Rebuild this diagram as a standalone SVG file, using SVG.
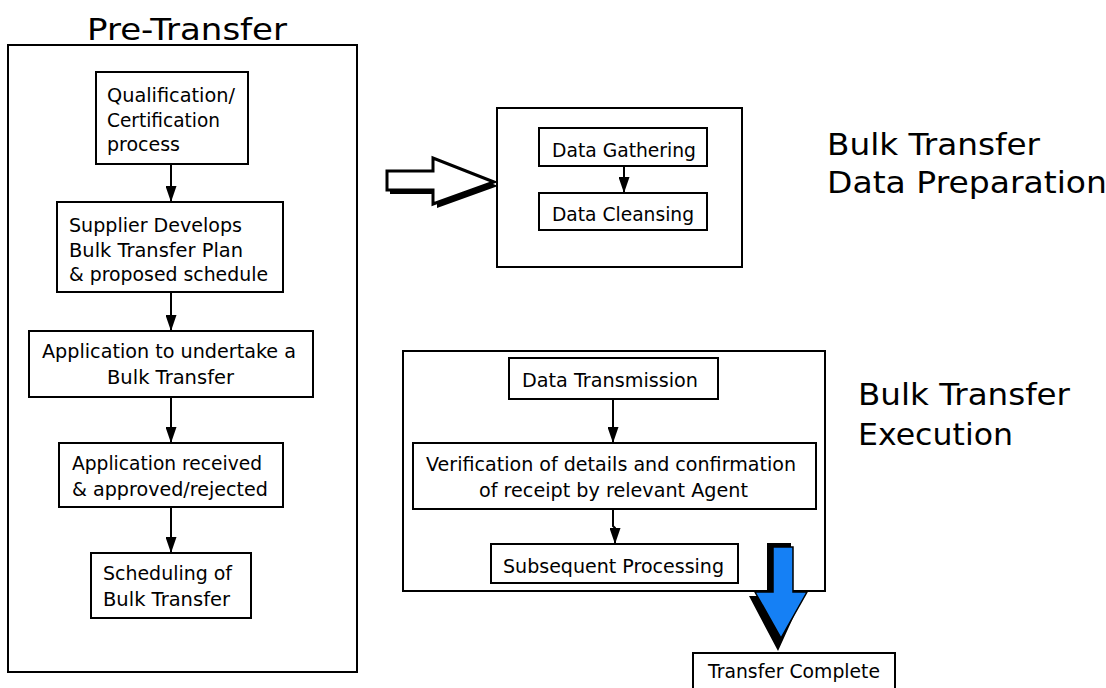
<svg xmlns="http://www.w3.org/2000/svg" width="1106" height="688" viewBox="0 0 1106 688">
  <style>
    .frame { fill: #ffffff; stroke: #000000; stroke-width: 2; }
    .box { fill: #ffffff; stroke: #000000; stroke-width: 2; }
    .txt { font-family: "DejaVu Sans", "Liberation Sans", sans-serif; font-size: 19.5px; fill: #000000; }
    .big { font-family: "DejaVu Sans", "Liberation Sans", sans-serif; font-size: 31px; fill: #000000; }
    .link { fill: none; stroke: #000000; stroke-width: 2; }
  </style>
  <defs>
    <marker id="head" viewBox="0 0 16 11" refX="16" refY="5.5" markerWidth="16" markerHeight="11" markerUnits="userSpaceOnUse" orient="auto">
      <path d="M0,0 L16,5.5 L0,11 Z" fill="#000000"/>
    </marker>
  </defs>
  <rect width="1106" height="688" fill="#ffffff"/>

  <!-- Pre-Transfer stage -->
  <g id="pre-transfer">
    <text class="big" x="87" y="40" textLength="200" lengthAdjust="spacingAndGlyphs">Pre-Transfer</text>
    <rect class="frame" x="8" y="45" width="349" height="627"/>
  </g>
  <g id="qualification">
    <rect class="box" x="96" y="72" width="152" height="92"/>
    <text class="txt" x="107" y="102" textLength="128" lengthAdjust="spacingAndGlyphs">Qualification/</text>
    <text class="txt" x="107" y="127" textLength="113" lengthAdjust="spacingAndGlyphs">Certification</text>
    <text class="txt" x="107" y="151" textLength="73" lengthAdjust="spacingAndGlyphs">process</text>
  </g>
  <g id="supplier-plan">
    <rect class="box" x="57" y="202" width="226" height="90"/>
    <text class="txt" x="69" y="232" textLength="173" lengthAdjust="spacingAndGlyphs">Supplier Develops</text>
    <text class="txt" x="69" y="257" textLength="174" lengthAdjust="spacingAndGlyphs">Bulk Transfer Plan</text>
    <text class="txt" x="69" y="281" textLength="199" lengthAdjust="spacingAndGlyphs">&amp; proposed schedule</text>
  </g>
  <g id="application">
    <rect class="box" x="29" y="331" width="284" height="66"/>
    <text class="txt" x="42" y="358" textLength="254" lengthAdjust="spacingAndGlyphs">Application to undertake a</text>
    <text class="txt" x="107" y="384" textLength="127" lengthAdjust="spacingAndGlyphs">Bulk Transfer</text>
  </g>
  <g id="approval">
    <rect class="box" x="59" y="443" width="224" height="64"/>
    <text class="txt" x="72" y="470" textLength="190" lengthAdjust="spacingAndGlyphs">Application received</text>
    <text class="txt" x="72" y="496" textLength="196" lengthAdjust="spacingAndGlyphs">&amp; approved/rejected</text>
  </g>
  <g id="scheduling">
    <rect class="box" x="91" y="553" width="160" height="65"/>
    <text class="txt" x="103" y="580" textLength="129" lengthAdjust="spacingAndGlyphs">Scheduling of</text>
    <text class="txt" x="103" y="606" textLength="127" lengthAdjust="spacingAndGlyphs">Bulk Transfer</text>
  </g>

  <!-- Data preparation stage -->
  <g id="data-preparation">
    <rect class="frame" x="497" y="108" width="245" height="159"/>
    <text class="big" x="827" y="155" textLength="213" lengthAdjust="spacingAndGlyphs">Bulk Transfer</text>
    <text class="big" x="827" y="193" textLength="280" lengthAdjust="spacingAndGlyphs">Data Preparation</text>
  </g>
  <g id="data-gathering">
    <rect class="box" x="539" y="128" width="168" height="38"/>
    <text class="txt" x="552" y="157" textLength="144" lengthAdjust="spacingAndGlyphs">Data Gathering</text>
  </g>
  <g id="data-cleansing">
    <rect class="box" x="539" y="193" width="168" height="37"/>
    <text class="txt" x="552" y="221" textLength="142" lengthAdjust="spacingAndGlyphs">Data Cleansing</text>
  </g>

  <!-- Execution stage -->
  <g id="execution">
    <rect class="frame" x="403" y="351" width="422" height="240"/>
    <text class="big" x="858" y="405" textLength="212" lengthAdjust="spacingAndGlyphs">Bulk Transfer</text>
    <text class="big" x="858" y="445" textLength="155" lengthAdjust="spacingAndGlyphs">Execution</text>
  </g>
  <g id="data-transmission">
    <rect class="box" x="509" y="358" width="209" height="41"/>
    <text class="txt" x="522" y="387" textLength="176" lengthAdjust="spacingAndGlyphs">Data Transmission</text>
  </g>
  <g id="verification">
    <rect class="box" x="413" y="443" width="403" height="66"/>
    <text class="txt" x="426" y="471" textLength="370" lengthAdjust="spacingAndGlyphs">Verification of details and confirmation</text>
    <text class="txt" x="479" y="497" textLength="269" lengthAdjust="spacingAndGlyphs">of receipt by relevant Agent</text>
  </g>
  <g id="subsequent-processing">
    <rect class="box" x="491" y="544" width="247" height="39"/>
    <text class="txt" x="503" y="573" textLength="221" lengthAdjust="spacingAndGlyphs">Subsequent Processing</text>
  </g>
  <g id="transfer-complete">
    <rect class="box" x="693" y="653" width="202" height="40"/>
    <text class="txt" x="708" y="678" textLength="172" lengthAdjust="spacingAndGlyphs">Transfer Complete</text>
  </g>

  <!-- Connectors -->
  <g id="connectors">
    <path class="link" d="M171,164 V202" marker-end="url(#head)"/>
    <path class="link" d="M171,292 V331" marker-end="url(#head)"/>
    <path class="link" d="M171,397 V443" marker-end="url(#head)"/>
    <path class="link" d="M171,507 V553" marker-end="url(#head)"/>
    <path class="link" d="M624,166 V193" marker-end="url(#head)"/>
    <path class="link" d="M613,399 V443" marker-end="url(#head)"/>
    <path class="link" d="M613,509 V526 L615,528 V544" marker-end="url(#head)"/>

    <!-- hollow block arrow into data preparation -->
    <polygon points="390,174 437,174 437,161 498,186 437,208 437,194 390,194" fill="#000000"/>
    <polygon points="387,171 433,171 433,158 494,182 433,204 433,190 387,190" fill="#ffffff" stroke="#000000" stroke-width="3" stroke-linejoin="miter"/>

    <!-- blue block arrow down to completion -->
    <polygon points="767,543 791,543 791,596 803,596 778,651 749,596 767,596" fill="#000000"/>
    <polygon points="773,547 793,547 793,592 807,592 781,638 755,592 773,592" fill="#1580f5" stroke="#000000" stroke-width="1.5"/>
  </g>
</svg>
